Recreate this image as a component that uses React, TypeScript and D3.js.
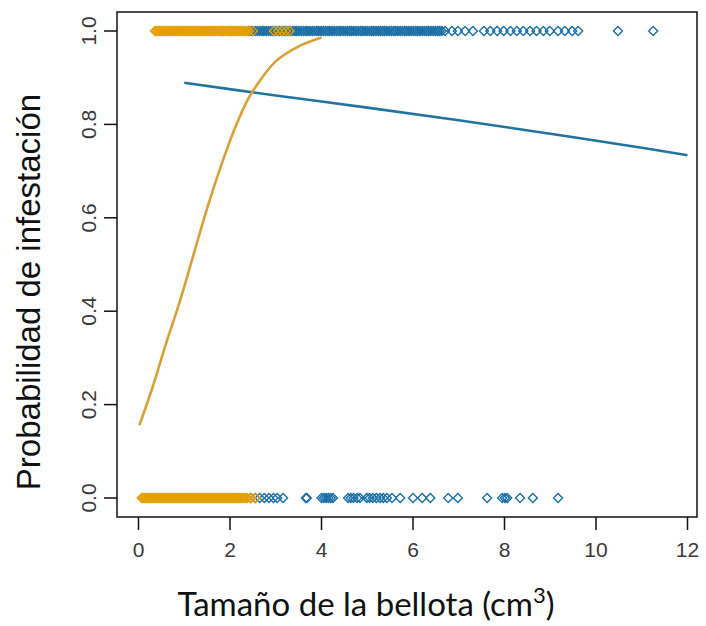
import { useEffect, useRef } from "react";
import * as d3 from "d3";

// sizes of acorns (cm3) with infestation = 1 / 0, for the two groups
const orangeTop = [
  0.36, 0.39, 0.43, 0.46, 0.5, 0.53, 0.57, 0.6, 0.64, 0.68, 0.71, 0.75, 0.78, 0.82, 0.86, 0.89,
  0.93, 0.96, 1.0, 1.04, 1.07, 1.11, 1.14, 1.18, 1.22, 1.25, 1.29, 1.32, 1.36, 1.4, 1.43, 1.47,
  1.5, 1.54, 1.58, 1.61, 1.65, 1.68, 1.72, 1.76, 1.79, 1.83, 1.86, 1.9, 1.94, 1.97, 2.01, 2.04,
  2.08, 2.12, 2.15, 2.19, 2.22, 2.26, 2.3, 2.33, 2.37, 2.42, 2.5, 2.96, 3.05, 3.14, 3.22, 3.3,
];
const orangeBottom = [
  0.07, 0.1, 0.14, 0.17, 0.21, 0.24, 0.28, 0.31, 0.35, 0.38, 0.42, 0.45, 0.49, 0.52, 0.56, 0.59,
  0.63, 0.66, 0.7, 0.73, 0.77, 0.8, 0.84, 0.87, 0.91, 0.94, 0.98, 1.01, 1.05, 1.08, 1.12, 1.15,
  1.19, 1.22, 1.26, 1.29, 1.33, 1.36, 1.4, 1.43, 1.47, 1.5, 1.54, 1.57, 1.61, 1.64, 1.68, 1.71,
  1.75, 1.78, 1.82, 1.85, 1.89, 1.92, 1.96, 1.99, 2.03, 2.06, 2.1, 2.13, 2.17, 2.2, 2.24, 2.27,
  2.31, 2.35, 2.38, 2.46, 2.56,
];
const blueTop = [
  2.41, 2.46, 2.5, 2.55, 2.6, 2.65, 2.7, 2.74, 2.79, 2.84, 2.89, 2.94, 2.98, 3.03, 3.08, 3.13,
  3.18, 3.22, 3.27, 3.32, 3.37, 3.42, 3.46, 3.51, 3.56, 3.61, 3.66, 3.7, 3.75, 3.8, 3.85, 3.9,
  3.94, 3.99, 4.04, 4.09, 4.14, 4.18, 4.23, 4.28, 4.33, 4.38, 4.42, 4.47, 4.52, 4.57, 4.62, 4.66,
  4.71, 4.76, 4.81, 4.86, 4.9, 4.95, 5.0, 5.05, 5.1, 5.14, 5.19, 5.24, 5.29, 5.34, 5.38, 5.43,
  5.48, 5.53, 5.58, 5.62, 5.67, 5.72, 5.77, 5.82, 5.86, 5.91, 5.96, 6.01, 6.06, 6.1, 6.15, 6.2,
  6.25, 6.3, 6.34, 6.39, 6.44, 6.49, 6.54, 6.58, 6.63, 6.7, 6.85, 6.98, 7.14, 7.31, 7.55, 7.69,
  7.84, 7.98, 8.13, 8.27, 8.41, 8.56, 8.7, 8.85, 8.99, 9.17, 9.32, 9.48, 9.61, 10.48, 11.25,
];
const blueBottom = [
  2.45, 2.55, 2.65, 2.75, 2.85, 2.95, 3.03, 3.16, 3.66, 3.68, 4.0, 4.05, 4.1, 4.15, 4.2, 4.25,
  4.58, 4.64, 4.7, 4.78, 4.84, 4.99, 5.05, 5.12, 5.2, 5.28, 5.35, 5.43, 5.54, 5.72, 6.0, 6.2,
  6.38, 6.77, 6.98, 7.62, 7.95, 8.01, 8.06, 8.34, 8.62, 9.17,
];

// fitted curves
const orangeCurveX = [0.02, 0.3, 0.6, 0.9, 1.2, 1.5, 1.8, 2.1, 2.4, 2.7, 3.0, 3.5, 4.0];
const orangeCurveY = [0.156, 0.235, 0.33, 0.42, 0.52, 0.62, 0.71, 0.79, 0.855, 0.9, 0.935, 0.967, 0.986];
const blueCurveX = [1, 3, 5, 7, 9, 11, 12];
const blueCurveY = [0.889, 0.862, 0.836, 0.809, 0.78, 0.75, 0.734];

const xTicks = [0, 2, 4, 6, 8, 10, 12];
const yTicks = [0, 0.2, 0.4, 0.6, 0.8, 1.0];

const ORANGE = "#E69F00";
const BLUE = "#1B6FA6";

const App = () => {
  const svgRef = useRef(null);

  useEffect(() => {
    const svg = d3.select(svgRef.current);
    svg.selectAll("*").remove();

    const box = { left: 117, right: 697, top: 12, bottom: 517 };
    const x = d3.scaleLinear().domain([0, 12]).range([138.5, 687.5]);
    const y = d3.scaleLinear().domain([0, 1]).range([498, 31]);

    const diamond = (g, xs, yv, color) => {
      g.selectAll(null)
        .data(xs)
        .enter()
        .append("path")
        .attr("d", (d) => {
          const cx = x(d), cy = y(yv), r = 4.5;
          return `M${cx},${cy - r}L${cx + r},${cy}L${cx},${cy + r}L${cx - r},${cy}Z`;
        })
        .attr("fill", "none")
        .attr("stroke", color)
        .attr("stroke-width", 1.4);
    };

    const pts = svg.append("g");
    diamond(pts, blueTop, 1, BLUE);
    diamond(pts, blueBottom, 0, BLUE);
    diamond(pts, orangeTop, 1, ORANGE);
    diamond(pts, orangeBottom, 0, ORANGE);

    const line = d3
      .line()
      .x((d) => x(d[0]))
      .y((d) => y(d[1]))
      .curve(d3.curveCatmullRom);

    svg.append("path")
      .datum(blueCurveX.map((v, i) => [v, blueCurveY[i]]))
      .attr("fill", "none")
      .attr("stroke", "#23739f")
      .attr("stroke-width", 2.6)
      .attr("d", line);

    svg.append("path")
      .datum(orangeCurveX.map((v, i) => [v, orangeCurveY[i]]))
      .attr("fill", "none")
      .attr("stroke", "#D9A038")
      .attr("stroke-width", 2.6)
      .attr("d", line);

    // frame
    svg.append("rect")
      .attr("x", box.left)
      .attr("y", box.top)
      .attr("width", box.right - box.left)
      .attr("height", box.bottom - box.top)
      .attr("fill", "none")
      .attr("stroke", "#111")
      .attr("stroke-width", 1.5);

    // x axis
    const xa = svg.append("g");
    xa.selectAll(null).data(xTicks).enter().append("line")
      .attr("x1", (d) => x(d)).attr("x2", (d) => x(d))
      .attr("y1", box.bottom).attr("y2", box.bottom + 13)
      .attr("stroke", "#111").attr("stroke-width", 1.5);
    xa.selectAll(null).data(xTicks).enter().append("text")
      .attr("x", (d) => x(d))
      .attr("y", 557)
      .attr("text-anchor", "middle")
      .attr("font-family", "Liberation Sans, Arial, sans-serif")
      .attr("font-size", 21)
      .attr("fill", "#3a3a3a")
      .text((d) => d);

    // y axis
    const ya = svg.append("g");
    ya.selectAll(null).data(yTicks).enter().append("line")
      .attr("x1", box.left - 13).attr("x2", box.left)
      .attr("y1", (d) => y(d)).attr("y2", (d) => y(d))
      .attr("stroke", "#111").attr("stroke-width", 1.5);
    ya.selectAll(null).data(yTicks).enter().append("text")
      .attr("transform", (d) => `translate(96,${y(d)}) rotate(-90)`)
      .attr("text-anchor", "middle")
      .attr("font-family", "Liberation Sans, Arial, sans-serif")
      .attr("font-size", 21)
      .attr("fill", "#3a3a3a")
      .text((d) => d3.format(".1f")(d));

    svg.append("text")
      .attr("transform", "translate(40,292) rotate(-90)")
      .attr("text-anchor", "middle")
      .attr("font-family", "Liberation Sans, Arial, sans-serif")
      .attr("font-size", 33)
      .attr("fill", "#111")
      .text("Probabilidad de infestación");

    const xt = svg.append("text")
      .attr("x", 366)
      .attr("y", 616)
      .attr("text-anchor", "middle")
      .attr("font-family", "Lato, Open Sans, sans-serif")
      .attr("font-size", 33)
      .attr("fill", "#111");
    xt.append("tspan").text("Tamaño de la bellota (cm");
    xt.append("tspan").attr("dy", -13).attr("font-size", 22).text("3");
    xt.append("tspan").attr("dy", 13).text(")");
  }, []);

  return (
    <svg
      ref={svgRef}
      width={706}
      height={626}
      style={{ position: "absolute", left: 0, top: 0, background: "#fff" }}
    />
  );
};

export default App;
